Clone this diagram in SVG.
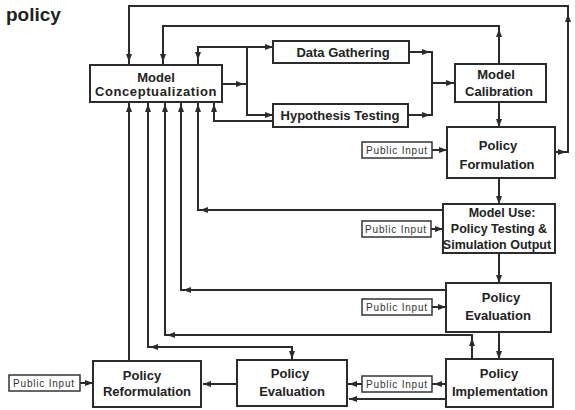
<svg xmlns="http://www.w3.org/2000/svg" width="575" height="410" viewBox="0 0 575 410">
<defs>
<marker id="ah" markerUnits="userSpaceOnUse" markerWidth="8" markerHeight="8" viewBox="0 0 8 8" refX="8" refY="4" orient="auto">
<path d="M0,1 L8,4 L0,7 z" fill="#2b2b2b"/>
</marker>
</defs>
<style>
.bx{fill:#fff;stroke:#2b2b2b;stroke-width:2}
.pb{fill:#fff;stroke:#333;stroke-width:1.5}
.ln{fill:none;stroke:#2b2b2b;stroke-width:2}
.ar{fill:none;stroke:#2b2b2b;stroke-width:2;marker-end:url(#ah)}
.t{font-family:"Liberation Sans",Arial,sans-serif;font-size:13px;font-weight:bold;fill:#222;text-anchor:middle}
.m{font-size:12.5px}
.s{font-family:"Liberation Sans",Arial,sans-serif;font-size:10px;fill:#333;text-anchor:middle;letter-spacing:0.8px}
</style>
<rect width="575" height="410" fill="#fff"/>
<text x="6" y="21" font-family="Liberation Sans, Arial, sans-serif" font-size="19" font-weight="bold" fill="#222">policy</text>

<g id="connectors">
<!-- outer loop PF -> MC -->
<path class="ln" d="M555,152 H568 V6 H129 V65"/>
<path class="ar" d="M554,152 H566"/>
<path class="ar" d="M568,28 V14"/>
<path class="ar" d="M129,50 V62"/>
<!-- MCal -> MC -->
<path class="ln" d="M499,64 V26 H163 V65"/>
<path class="ar" d="M499,42 V29"/>
<path class="ar" d="M163,50 V62"/>
<!-- MC top -> DG -->
<path class="ln" d="M198,65 V47 H273"/>
<path class="ar" d="M198,48 V60"/>
<path class="ar" d="M260,47 H273"/>
<!-- MC right -> DG/HT -->
<path class="ln" d="M222,84 H247"/>
<path class="ar" d="M230,84 H244"/>
<path class="ln" d="M247,47 V115 H273"/>
<path class="ar" d="M260,115 H273"/>
<!-- HT -> MC bottom -->
<path class="ln" d="M214,102 V121 H273"/>
<path class="ar" d="M214,116 V104"/>
<!-- DG/HT -> MCal -->
<path class="ln" d="M409,52 H432 V115 H408"/>
<path class="ar" d="M418,52 H430"/>
<path class="ar" d="M418,115 H430"/>
<path class="ln" d="M432,83 H455"/>
<path class="ar" d="M440,83 H454"/>
<!-- vertical chain -->
<path class="ar" d="M499,102 V127"/>
<path class="ar" d="M499,178 V204"/>
<path class="ar" d="M499,253 V283"/>
<path class="ar" d="M499,332 V359"/>
<!-- Model Use -> MC -->
<path class="ln" d="M443,210 H198 V102"/>
<path class="ar" d="M212,210 H200"/>
<path class="ar" d="M198,116 V104"/>
<!-- PE right -> MC -->
<path class="ln" d="M446,290 H181 V102"/>
<path class="ar" d="M195,290 H183"/>
<path class="ar" d="M181,116 V104"/>
<!-- PI -> MC -->
<path class="ln" d="M472,359 V335 H165 V102"/>
<path class="ar" d="M472,352 V338"/>
<path class="ar" d="M179,335 H167"/>
<path class="ar" d="M165,116 V104"/>
<!-- PE bottom <-> MC -->
<path class="ln" d="M292,360 V347 H148 V102"/>
<path class="ar" d="M162,347 H150"/>
<path class="ar" d="M292,349 V359"/>
<path class="ar" d="M148,116 V104"/>
<!-- PR -> MC -->
<path class="ln" d="M129,361 V102"/>
<path class="ar" d="M129,116 V104"/>
<!-- public inputs -->
<path class="ar" d="M432,150 H447"/>
<path class="ar" d="M431,229 H443"/>
<path class="ar" d="M432,307 H446"/>
<path class="ln" d="M347,384 H362 M432,384 H446"/>
<path class="ar" d="M360,384 H349"/>
<path class="ar" d="M446,384 H434"/>
<path class="ar" d="M446,399 H349"/>
<path class="ar" d="M237,384 H203"/>
<path class="ar" d="M80,383 H93"/>
</g>

<g id="model-conceptualization">
<rect class="bx" x="90" y="65" width="132" height="37"/>
<text class="t" x="156" y="82">Model</text>
<text class="t" x="156" y="96" letter-spacing="0.6">Conceptualization</text>
</g>
<g id="data-gathering">
<rect class="bx" x="273" y="41" width="136" height="22"/>
<text class="t" x="343" y="57">Data Gathering</text>
</g>
<g id="hypothesis-testing">
<rect class="bx" x="273" y="104" width="135" height="23"/>
<text class="t" x="340" y="120">Hypothesis Testing</text>
</g>
<g id="model-calibration">
<rect class="bx" x="455" y="64" width="91" height="38"/>
<text class="t" x="496" y="79">Model</text>
<text class="t" x="499" y="96">Calibration</text>
</g>
<g id="policy-formulation">
<rect class="bx" x="447" y="127" width="108" height="51"/>
<text class="t" x="498" y="150">Policy</text>
<text class="t" x="497" y="169">Formulation</text>
</g>
<g id="model-use">
<rect class="bx" x="443" y="204" width="112" height="49"/>
<text class="t m" x="502" y="217">Model Use:</text>
<text class="t m" x="499" y="233">Policy Testing &amp;</text>
<text class="t m" x="497" y="249">Simulation Output</text>
</g>
<g id="policy-evaluation-1">
<rect class="bx" x="446" y="283" width="105" height="49"/>
<text class="t" x="501" y="302">Policy</text>
<text class="t" x="498" y="320">Evaluation</text>
</g>
<g id="policy-implementation">
<rect class="bx" x="446" y="359" width="107" height="48"/>
<text class="t" x="499" y="378">Policy</text>
<text class="t" x="500" y="396">Implementation</text>
</g>
<g id="policy-evaluation-2">
<rect class="bx" x="237" y="360" width="110" height="46"/>
<text class="t" x="290" y="378">Policy</text>
<text class="t" x="292" y="396">Evaluation</text>
</g>
<g id="policy-reformulation">
<rect class="bx" x="93" y="361" width="108" height="46"/>
<text class="t" x="142" y="380">Policy</text>
<text class="t" x="147" y="396">Reformulation</text>
</g>
<g id="public-input-1">
<rect class="pb" x="362" y="142" width="70" height="16"/>
<text class="s" x="397" y="154">Public Input</text>
</g>
<g id="public-input-2">
<rect class="pb" x="362" y="221" width="69" height="16"/>
<text class="s" x="396" y="233">Public Input</text>
</g>
<g id="public-input-3">
<rect class="pb" x="362" y="299" width="70" height="16"/>
<text class="s" x="397" y="311">Public Input</text>
</g>
<g id="public-input-4">
<rect class="pb" x="362" y="376" width="70" height="16"/>
<text class="s" x="397" y="388">Public Input</text>
</g>
<g id="public-input-5">
<rect class="pb" x="9" y="375" width="71" height="16"/>
<text class="s" x="44" y="387">Public Input</text>
</g>
</svg>
